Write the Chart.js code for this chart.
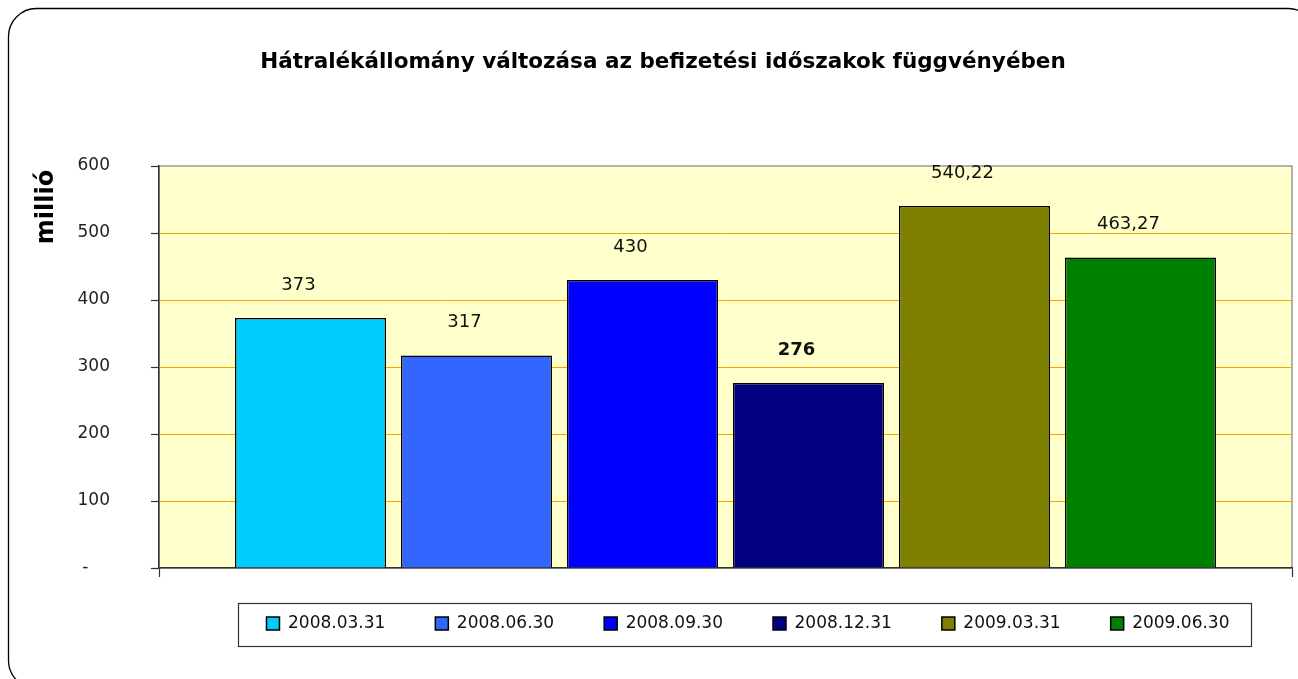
<!DOCTYPE html>
<html>
<head>
<meta charset="utf-8">
<script src="https://cdn.jsdelivr.net/npm/chart.js@4/dist/chart.umd.min.js"></script>
<style>
  html, body { margin: 0; padding: 0; background: #ffffff; }
  #wrap { position: relative; width: 1298px; height: 679px; }
</style>
</head>
<body>
<div id="wrap"><canvas id="c" width="1298" height="679"></canvas></div>
<script>
// ---- data ----
const categories = [''];
const seriesLabels = ['2008.03.31', '2008.06.30', '2008.09.30', '2008.12.31', '2009.03.31', '2009.06.30'];
const seriesValues = [373, 317, 430, 276, 540.22, 463.27];
const seriesColors = ['#00CCFF', '#3366FF', '#0000FF', '#000080', '#808000', '#008000'];
const boldLabel = [false, false, false, true, false, false];
const yTicks = [0, 100, 200, 300, 400, 500, 600];
const chartTitle = 'Hátralékállomány változása az befizetési időszakok függvényében';
const yAxisTitle = 'millió';

const FONT = "'DejaVu Sans', sans-serif";

const datasets = seriesLabels.map((lab, i) => ({
  label: lab,
  data: [seriesValues[i]],
  backgroundColor: seriesColors[i],
  borderColor: '#000000',
  borderWidth: 1.5,
  categoryPercentage: 0.879,
  barPercentage: 0.91
}));

const framePlugin = {
  id: 'frame',
  afterLayout(chart) {
    const tb = chart.titleBlock;
    if (tb) { tb.left += 17; tb.right += 17; }
    const lg = chart.legend;
    if (lg) { lg.top -= 12; lg.bottom -= 12; lg.left += 102; lg.right += 102; }
  },
  beforeDraw(chart) {
    const ctx = chart.ctx;
    const a = chart.chartArea;
    ctx.save();
    ctx.fillStyle = '#ffffff';
    ctx.fillRect(0, 0, chart.width, chart.height);
    // outer rounded frame
    ctx.strokeStyle = '#000000';
    ctx.lineWidth = 1.3;
    ctx.beginPath();
    ctx.roundRect(8.5, 8.5, 1308, 680, 28);
    ctx.stroke();
    // plot background + grey border
    ctx.fillStyle = '#FFFFCC';
    ctx.fillRect(a.left, a.top, a.right - a.left, a.bottom - a.top);
    ctx.strokeStyle = '#999999';
    ctx.lineWidth = 1.5;
    ctx.strokeRect(a.left, a.top, a.right - a.left, a.bottom - a.top);
    ctx.restore();
  },
  afterDraw(chart) {
    const ctx = chart.ctx;
    ctx.save();
    ctx.translate(47, 207);
    ctx.rotate(-Math.PI / 2);
    ctx.font = "bold 24px " + FONT;
    ctx.fillStyle = '#000000';
    ctx.textAlign = 'center';
    ctx.textBaseline = 'middle';
    ctx.fillText(yAxisTitle, 0, 0);
    ctx.restore();
    // legend frame
    const lg = chart.legend;
    if (lg && lg.legendHitBoxes && lg.legendHitBoxes.length) {
      const hb = lg.legendHitBoxes;
      let l = Infinity, r = -Infinity, t = Infinity, b = -Infinity;
      hb.forEach(h => { l = Math.min(l, h.left); r = Math.max(r, h.left + h.width); t = Math.min(t, h.top); b = Math.max(b, h.top + h.height); });
      ctx.save();
      ctx.strokeStyle = '#333333';
      ctx.lineWidth = 1.2;
      const cy = (t + b) / 2;
      ctx.strokeRect(Math.round(l - 28) + 0.5, Math.round(cy - 21) + 0.5, Math.round(r - l + 50), 43);
      ctx.restore();
    }
  }
};

const labelPlugin = {
  id: 'valueLabels',
  afterDatasetsDraw(chart) {
    const ctx = chart.ctx;
    ctx.save();
    ctx.fillStyle = '#111111';
    ctx.textAlign = 'center';
    ctx.textBaseline = 'middle';
    chart.data.datasets.forEach((ds, i) => {
      const meta = chart.getDatasetMeta(i);
      meta.data.forEach((bar, j) => {
        const v = ds.data[j];
        ctx.font = (boldLabel[i] ? 'bold ' : '') + '18px ' + FONT;
        ctx.fillText(String(v).replace('.', ','), bar.x - 12, bar.y - 33);
      });
    });
    ctx.restore();
  }
};

new Chart(document.getElementById('c'), {
  type: 'bar',
  data: { labels: categories, datasets },
  options: {
    responsive: false,
    animation: false,
    layout: { padding: { left: 0, right: 6, top: 0, bottom: 25 } },
    scales: {
      x: {
        grid: { offset: true, drawOnChartArea: false, tickLength: 9, tickColor: '#333333', tickWidth: 1.2 },
        border: { display: true, color: '#333333', width: 1.5 },
        ticks: { display: false }
      },
      y: {
        min: 0, max: 600,
        afterBuildTicks(scale) { scale.ticks = yTicks.map(v => ({ value: v })); },
        afterFit(scale) { scale.width = 159; },
        grid: {
          color: (c) => (c.index > 0 && c.index < yTicks.length - 1) ? '#FFA000' : 'rgba(0,0,0,0)',
          lineWidth: 1,
          tickLength: 8,
          tickColor: '#333333',
          tickWidth: 1.2
        },
        border: { display: true, color: '#333333', width: 1.5 },
        ticks: {
          padding: 41,
          color: '#222222',
          font: { family: FONT, size: 17 },
          callback: v => v === 0 ? '-    ' : String(v)
        }
      }
    },
    plugins: {
      title: {
        display: true,
        text: chartTitle,
        color: '#000000',
        font: { family: FONT, size: 21.5, weight: 'bold' },
        padding: { top: 50, bottom: 90.2 }
      },
      legend: {
        display: true,
        position: 'bottom',
        labels: {
          boxWidth: 13,
          boxHeight: 13,
          padding: 50,
          color: '#111111',
          font: { family: FONT, size: 17 }
        }
      },
      tooltip: { enabled: false }
    }
  },
  plugins: [framePlugin, labelPlugin]
});
</script>
</body>
</html>
